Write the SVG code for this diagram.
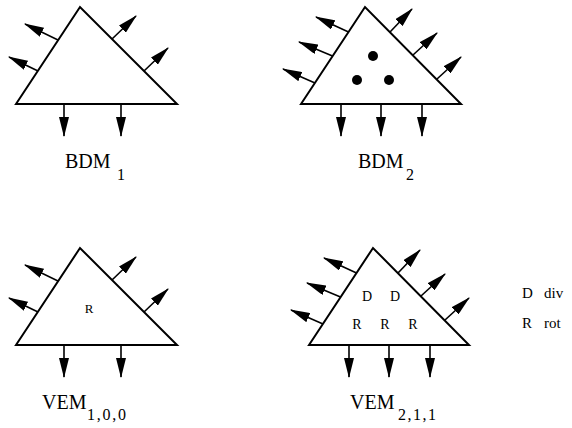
<svg xmlns="http://www.w3.org/2000/svg" width="572" height="428" viewBox="0 0 572 428">
<style>
.tri{fill:#fff;stroke:#000;stroke-width:2;stroke-linejoin:miter}
.arr{stroke:#000;stroke-width:1.6;fill:none;marker-end:url(#ah)}
text{font-family:'Liberation Serif',serif;fill:#000}
.lbl{font-size:20px}
.sub{font-size:16px}
.in{font-size:14px;text-anchor:middle}
.leg{font-size:15px}
</style>
<defs>
<marker id="ah" markerUnits="userSpaceOnUse" markerWidth="20" markerHeight="10" refX="17" refY="4.5" orient="auto" viewBox="0 0 18 9">
<path d="M0,0 L18,4.5 L0,9 z" fill="#000"/>
</marker>
</defs>
<g id="connectors">
<line class="arr" x1="58" y1="40" x2="25" y2="24"/>
<line class="arr" x1="38" y1="71" x2="9" y2="57"/>
<line class="arr" x1="112" y1="39" x2="136" y2="16"/>
<line class="arr" x1="144" y1="71" x2="168" y2="48"/>
<line class="arr" x1="64" y1="104" x2="64" y2="136"/>
<line class="arr" x1="121" y1="104" x2="121" y2="136"/>
<line class="arr" x1="348.5" y1="32" x2="316" y2="17"/>
<line class="arr" x1="332.5" y1="56" x2="299" y2="42"/>
<line class="arr" x1="315" y1="83" x2="283" y2="69"/>
<line class="arr" x1="390" y1="32" x2="412" y2="9"/>
<line class="arr" x1="413" y1="55" x2="437" y2="33"/>
<line class="arr" x1="437" y1="79" x2="461" y2="57"/>
<line class="arr" x1="341" y1="104" x2="341" y2="136"/>
<line class="arr" x1="381" y1="104" x2="381" y2="136"/>
<line class="arr" x1="422" y1="104" x2="422" y2="136"/>
<line class="arr" x1="58" y1="281" x2="25" y2="265"/>
<line class="arr" x1="38" y1="312" x2="9" y2="298"/>
<line class="arr" x1="112" y1="280" x2="136" y2="257"/>
<line class="arr" x1="144" y1="312" x2="168" y2="289"/>
<line class="arr" x1="64" y1="345" x2="64" y2="377"/>
<line class="arr" x1="121" y1="345" x2="121" y2="377"/>
<line class="arr" x1="356.5" y1="273" x2="324" y2="258"/>
<line class="arr" x1="340.5" y1="297" x2="307" y2="283"/>
<line class="arr" x1="323" y1="324" x2="291" y2="310"/>
<line class="arr" x1="398" y1="273" x2="420" y2="250"/>
<line class="arr" x1="421" y1="296" x2="445" y2="274"/>
<line class="arr" x1="445" y1="320" x2="469" y2="298"/>
<line class="arr" x1="349" y1="345" x2="349" y2="377"/>
<line class="arr" x1="389" y1="345" x2="389" y2="377"/>
<line class="arr" x1="430" y1="345" x2="430" y2="377"/>
</g>
<g id="bdm1">
<polygon class="tri" points="16,104 80,7 177,104"/>
<text class="lbl" x="65" y="168">BDM</text>
<text class="sub" x="117" y="180">1</text>
</g>
<g id="bdm2">
<polygon class="tri" points="301,104 365,7 461,104"/>
<circle cx="373" cy="56" r="5" fill="#000"/>
<circle cx="357" cy="80" r="5" fill="#000"/>
<circle cx="389" cy="80" r="5" fill="#000"/>
<text class="lbl" x="358" y="168">BDM</text>
<text class="sub" x="406" y="180">2</text>
</g>
<g id="vem100">
<polygon class="tri" points="16,345 80,248 177,345"/>
<text class="in" x="89" y="313" style="font-size:13px">R</text>
<text class="lbl" x="42" y="409">VEM</text>
<text class="sub" x="87" y="420" textLength="39" lengthAdjust="spacing">1,0,0</text>
</g>
<g id="vem211">
<polygon class="tri" points="309,345 373,248 469,345"/>
<text class="in" x="367" y="301">D</text>
<text class="in" x="395" y="301">D</text>
<text class="in" x="357" y="329">R</text>
<text class="in" x="385" y="329">R</text>
<text class="in" x="413" y="329">R</text>
<text class="lbl" x="350" y="409">VEM</text>
<text class="sub" x="398" y="420" textLength="38" lengthAdjust="spacing">2,1,1</text>
</g>
<g id="legend">
<text class="leg" x="522" y="298">D</text>
<text class="leg" x="544" y="298">div</text>
<text class="leg" x="522" y="328">R</text>
<text class="leg" x="544" y="328">rot</text>
</g>
</svg>
